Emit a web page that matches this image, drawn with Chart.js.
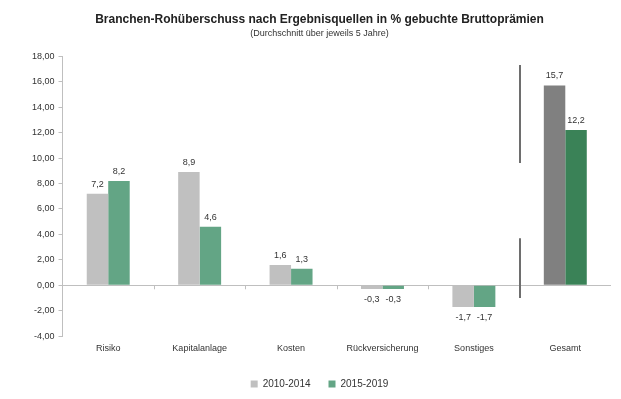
<!DOCTYPE html>
<html>
<head>
<meta charset="utf-8">
<script src="https://cdn.jsdelivr.net/npm/chart.js@4"></script>
<style>
  html, body { margin: 0; padding: 0; background: #fff; }
  #wrap { width: 621px; height: 399px; }
</style>
</head>
<body>
<div id="wrap"><canvas id="chart"></canvas></div>
<script>
var categories = ["Risiko", "Kapitalanlage", "Kosten", "Rückversicherung", "Sonstiges", "Gesamt"];
var series2010 = [7.2, 8.9, 1.6, -0.3, -1.7, 15.7];
var series2015 = [8.2, 4.6, 1.3, -0.3, -1.7, 12.2];
var seriesNames = ["2010-2014", "2015-2019"];

var fmt = (v, d) => v.toFixed(d).replace(".", ",");

// labels above/below each bar
var valueLabels = {
    id: "valueLabels",
    afterDatasetsDraw(chart) {
        let c = chart.ctx;
        c.save();
        c.font = "9px 'Liberation Sans', Arial, sans-serif";
        c.fillStyle = "#333";
        c.textAlign = "center";
        chart.data.datasets.forEach((ds, i) => {
            chart.getDatasetMeta(i).data.forEach((bar, j) => {
                let v = ds.data[j];
                if (v >= 0) {
                    c.textBaseline = "bottom";
                    c.fillText(fmt(v, 1), bar.x, bar.y - 5);
                } else {
                    c.textBaseline = "top";
                    c.fillText(fmt(v, 1), bar.x, bar.y + 6);
                }
            });
        });
        c.restore();
    }
};

// category tick marks on the zero line and the separator before "Gesamt"
var extras = {
    id: "extras",
    afterDraw(chart) {
        let c = chart.ctx, x = chart.scales.x, y = chart.scales.y;
        let y0 = y.getPixelForValue(0);
        c.save();
        c.strokeStyle = "#bfbfbf";
        c.lineWidth = 1;
        for (let i = 0; i < categories.length - 1; i++) {
            let bx = Math.round((x.getPixelForValue(i) + x.getPixelForValue(i + 1)) / 2) + 0.5;
            c.beginPath();
            c.moveTo(bx, y0);
            c.lineTo(bx, y0 + 4);
            c.stroke();
        }
        let sx = Math.round((x.getPixelForValue(4) + x.getPixelForValue(5)) / 2);
        c.strokeStyle = "#6e6e6e";
        c.lineWidth = 2;
        c.beginPath();
        c.moveTo(sx, y.getPixelForValue(17.3));
        c.lineTo(sx, y.getPixelForValue(9.6));
        c.moveTo(sx, y.getPixelForValue(3.7));
        c.lineTo(sx, y.getPixelForValue(-1.0));
        c.stroke();
        c.restore();
    }
};

new Chart(document.getElementById("chart"), {
    type: "bar",
    data: {
        labels: categories,
        datasets: [
            {
                label: seriesNames[0],
                data: series2010,
                backgroundColor: ctx => ctx.dataIndex === 5 ? "#808080" : "#c0c0c0",
                categoryPercentage: 0.47,
                barPercentage: 1.0
            },
            {
                label: seriesNames[1],
                data: series2015,
                backgroundColor: ctx => ctx.dataIndex === 5 ? "#3a8257" : "#63a585",
                categoryPercentage: 0.47,
                barPercentage: 1.0
            }
        ]
    },
    options: {
        responsive: true,
        maintainAspectRatio: false,
        animation: false,
        layout: { padding: { left: 28, right: 10, top: 4, bottom: 0 } },
        plugins: {
            title: {
                display: true,
                text: "Branchen-Rohüberschuss nach Ergebnisquellen in % gebuchte Bruttoprämien",
                color: "#222",
                font: { family: "'Liberation Sans', Arial, sans-serif", size: 12, weight: "bold" },
                padding: { top: 8, bottom: 2 }
            },
            subtitle: {
                display: true,
                text: "(Durchschnitt über jeweils 5 Jahre)",
                color: "#333",
                font: { family: "'Liberation Sans', Arial, sans-serif", size: 9 },
                padding: { top: 0, bottom: 17 }
            },
            legend: {
                position: "bottom",
                labels: {
                    boxWidth: 7,
                    boxHeight: 7,
                    padding: 18,
                    color: "#333",
                    font: { family: "'Liberation Sans', Arial, sans-serif", size: 10 }
                }
            },
            tooltip: { enabled: false }
        },
        scales: {
            x: {
                grid: { display: false, drawTicks: false },
                border: { display: false },
                ticks: {
                    color: "#333",
                    padding: 7,
                    font: { family: "'Liberation Sans', Arial, sans-serif", size: 9 }
                }
            },
            y: {
                min: -4,
                max: 18,
                ticks: {
                    stepSize: 2,
                    color: "#333",
                    padding: 4,
                    font: { family: "'Liberation Sans', Arial, sans-serif", size: 9 },
                    callback: v => fmt(v, 2)
                },
                grid: {
                    color: ctx => ctx.tick && ctx.tick.value === 0 ? "#bfbfbf" : "rgba(0,0,0,0)",
                    tickColor: "#bfbfbf",
                    tickLength: 4
                },
                border: { color: "#bfbfbf", width: 1 }
            }
        }
    },
    plugins: [valueLabels, extras]
});
</script>
</body>
</html>
